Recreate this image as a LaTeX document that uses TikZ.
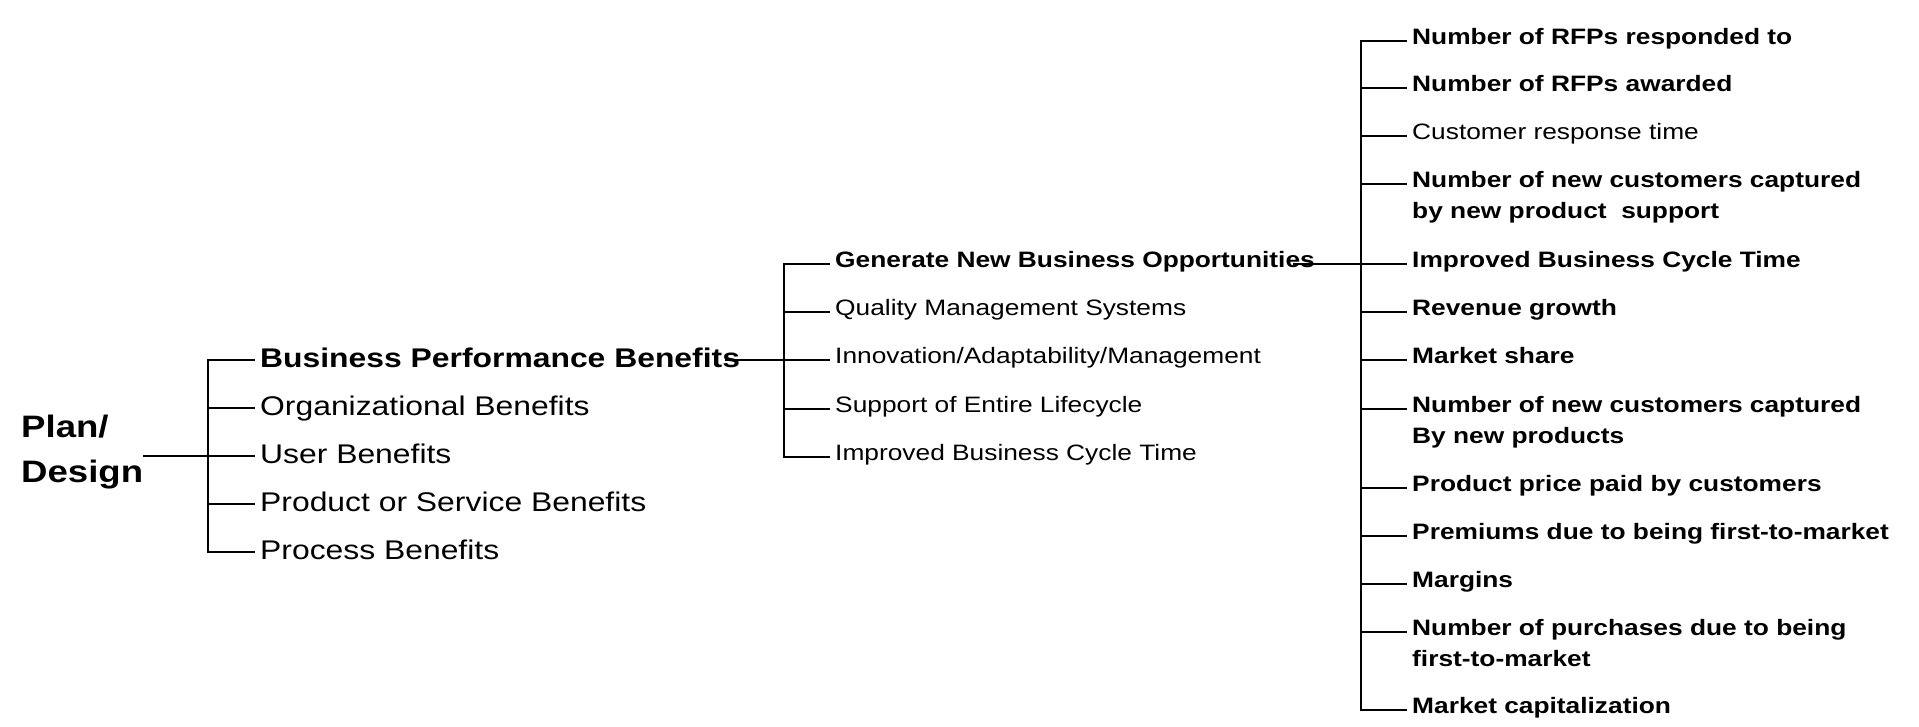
\documentclass[tikz,border=0pt]{standalone}
\usepackage{fontspec}
\setmainfont{Liberation Sans}[FakeStretch=1.18]
\newcommand{\tlines}[2]{\begin{tabular}[t]{@{}l@{}}#1\\#2\end{tabular}}
\begin{document}
\begin{tikzpicture}[x=1pt,y=-1pt,
  conn/.style={line width=2.8pt, draw=black},
  rootst/.style={anchor=base west, inner sep=0pt, font=\fontsize{31}{45}\selectfont\bfseries},
  lvA/.style={anchor=west, inner xsep=5pt, inner ysep=0pt, text height=19pt, text depth=5pt, font=\fontsize{27}{33}\selectfont},
  lvAb/.style={lvA, font=\fontsize{27}{33}\selectfont\bfseries},
  lvB/.style={anchor=west, inner xsep=5pt, inner ysep=0pt, text height=15pt, text depth=8pt, font=\fontsize{22.3}{31}\selectfont},
  lvBb/.style={lvB, font=\fontsize{22.3}{31}\selectfont\bfseries}]
\useasboundingbox (0,0) rectangle (1919,727);

% root
\node[rootst] (root) at (21,437) {\tlines{Plan/}{Design}};

% level 1
\coordinate (j1) at (208,456);
\node[lvAb] (bpb) at (255,360) {Business Performance Benefits};
\node[lvA] (org) at (255,408) {Organizational Benefits};
\node[lvA] (ubn) at (255,456) {User Benefits};
\node[lvA] (psb) at (255,504) {Product or Service Benefits};
\node[lvA] (prb) at (255,552) {Process Benefits};
\draw[conn] (root.east |- ubn.west) -- (ubn.west);
\foreach \n in {bpb,org,psb,prb} \draw[conn] (j1) |- (\n.west);

% level 2
\coordinate (j2) at (784,360);
\node[lvBb] (gen) at (830,264) {Generate New Business Opportunities};
\node[lvB] (qms) at (830,312) {Quality Management Systems};
\node[lvB] (inn) at (830,360) {Innovation/Adaptability/Management};
\node[lvB] (sel) at (830,409) {Support of Entire Lifecycle};
\node[lvB] (ibc) at (830,457) {Improved Business Cycle Time};
\draw[conn] ([xshift=-20pt]bpb.east) -- (inn.west);
\foreach \n in {gen,qms,sel,ibc} \draw[conn] (j2) |- (\n.west);

% level 3
\coordinate (j3) at (1361,264);
\node[lvBb] (m1) at (1407,41) {Number of RFPs responded to};
\node[lvBb] (m2) at (1407,88) {Number of RFPs awarded};
\node[lvB] (m3) at (1407,136) {Customer response time};
\node[lvBb] (m4) at (1407,184) {\tlines{Number of new customers captured}{by new product~ support}};
\node[lvBb] (m5) at (1407,264) {Improved Business Cycle Time};
\node[lvBb] (m6) at (1407,312) {Revenue growth};
\node[lvBb] (m7) at (1407,360) {Market share};
\node[lvBb] (m8) at (1407,409) {\tlines{Number of new customers captured}{By new products}};
\node[lvBb] (m9) at (1407,488) {Product price paid by customers};
\node[lvBb] (m10) at (1407,536) {Premiums due to being first-to-market};
\node[lvBb] (m11) at (1407,584) {Margins};
\node[lvBb] (m12) at (1407,632) {\tlines{Number of purchases due to being}{first-to-market}};
\node[lvBb] (m13) at (1407,710) {Market capitalization};
\draw[conn] ([xshift=-27pt]gen.east) -- (m5.west);
\foreach \n in {m1,m2,m3,m4,m6,m7,m8,m9,m10,m11,m12,m13} \draw[conn] (j3) |- (\n.west);
\end{tikzpicture}
\end{document}
